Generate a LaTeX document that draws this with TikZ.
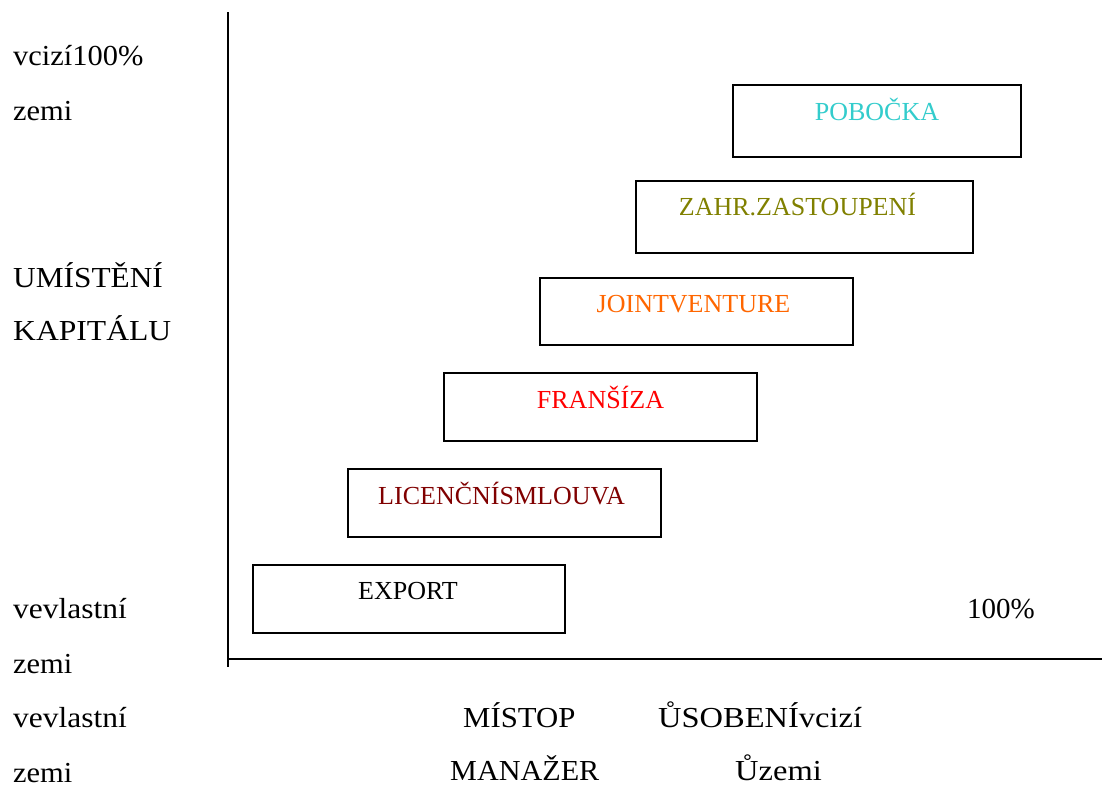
\documentclass[tikz,border=0pt]{standalone}
\usepackage{fontspec}
\setmainfont{Liberation Serif}
\definecolor{cPob}{HTML}{33CCCC}
\definecolor{cZahr}{HTML}{808000}
\definecolor{cJoint}{HTML}{FF6600}
\definecolor{cFran}{HTML}{FF0000}
\definecolor{cLic}{HTML}{800000}
\tikzset{
  formbox/.style={draw=black, line width=2pt, anchor=north west, inner sep=0pt},
  boxtext/.style={anchor=base, inner sep=0pt, font=\fontsize{26}{30}\selectfont},
  sidetext/.style={anchor=base west, inner sep=0pt, font=\fontsize{29}{34}\selectfont},
  axis/.style={line width=2pt}
}
\begin{document}
\begin{tikzpicture}[x=1pt, y=-1pt]
  \useasboundingbox (0,0) rectangle (1102,787);

  % axes
  \coordinate (ytop) at (228,12);
  \coordinate (ybot) at (228,667);
  \coordinate (xleft) at (228,659);
  \coordinate (xright) at (1102,659);
  \draw[axis] (ytop) -- (ybot);
  \draw[axis] (xleft) -- (xright);

  % staircase of entry forms
  \node[formbox, minimum width=288pt, minimum height=72pt] (pob) at (732,84) {};
  \node[boxtext, text=cPob] at ([yshift=-36pt]pob.north) {POBOČKA};

  \node[formbox, minimum width=337pt, minimum height=72pt] (zahr) at (635,180) {};
  \node[boxtext, text=cZahr] at ([xshift=-7pt,yshift=-35pt]zahr.north) {ZAHR.ZASTOUPENÍ};

  \node[formbox, minimum width=313pt, minimum height=67pt] (joint) at (539,277) {};
  \node[boxtext, text=cJoint] at ([xshift=-3pt,yshift=-35pt]joint.north) {JOINTVENTURE};

  \node[formbox, minimum width=313pt, minimum height=68pt] (fran) at (443,372) {};
  \node[boxtext, text=cFran] at ([yshift=-36pt]fran.north) {FRANŠÍZA};

  \node[formbox, minimum width=313pt, minimum height=68pt] (lic) at (347,468) {};
  \node[boxtext, text=cLic] at ([xshift=-3pt,yshift=-36pt]lic.north) {LICENČNÍSMLOUVA};

  \node[formbox, minimum width=312pt, minimum height=68pt] (exp) at (252,564) {};
  \node[boxtext] at ([xshift=-1pt,yshift=-35pt]exp.north) {EXPORT};

  % vertical axis labels
  \node[sidetext] (l1) at (13,65) {\scalebox{1.05}[1]{vcizí100\%}};
  \node[sidetext] (l2) at (13,120) {\scalebox{1.05}[1]{zemi}};
  \node[sidetext] (l3) at (13,287) {\scalebox{1.08}[1]{UMÍSTĚNÍ}};
  \node[sidetext] (l4) at (13,340) {\scalebox{1.09}[1]{KAPITÁLU}};
  \node[sidetext] (l5) at (13,618) {\scalebox{1.085}[1]{vevlastní}};
  \node[sidetext] (l6) at (13,673) {\scalebox{1.05}[1]{zemi}};
  \node[sidetext] (l7) at (13,727) {\scalebox{1.085}[1]{vevlastní}};
  \node[sidetext] (l8) at (13,782) {\scalebox{1.05}[1]{zemi}};

  % horizontal axis labels
  \node[sidetext] (r1) at (967,618) {100\%};
  \node[sidetext] (b1) at (463,727) {\scalebox{1.06}[1]{MÍSTOP}};
  \node[sidetext] (b2) at (658,727) {\scalebox{1.12}[1]{ŮSOBENÍvcizí}};
  \node[sidetext] (b3) at (450,780) {\scalebox{1.04}[1]{MANAŽER}};
  \node[sidetext] (b4) at (735,780) {\scalebox{1.12}[1]{Ůzemi}};
\end{tikzpicture}
\end{document}
